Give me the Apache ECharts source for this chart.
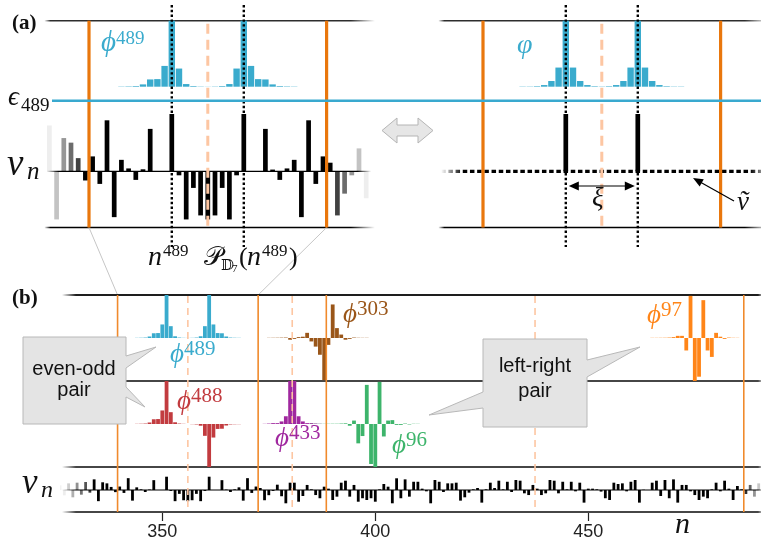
<!DOCTYPE html>
<html>
<head>
<meta charset="utf-8">
<script src="https://cdn.jsdelivr.net/npm/echarts@6/dist/echarts.min.js"></script>
<style>
  html, body { margin: 0; padding: 0; background: #fff; }
  #chart { width: 761px; height: 540px; }
</style>
</head>
<body>
<div id="chart"></div>
<script>
// on-site potential v_n, sites 326 .. 490
const V_N0 = 326;
const V_N = [
  0.35, -0.4, 0.5, -0.55, 0.55, -0.35, 0.6, -0.2, 0.8, -0.84,      // 326-335
  0.58, 0.5, 0.23, -0.16, 0.26, -0.22, 0.89, -0.8, 0.2, 0.05,       // 336-345
  -0.15, 0.035, 0.74, 0, 0, 1.0, -0.07, -0.84, -0.29, -0.77,        // 346-355
  -0.84, -0.77, -0.29, -0.84, -0.07, 1.0, 0, 0, 0.74, 0.03,         // 356-365
  -0.15, 0.05, 0.2, -0.8, 0.89, -0.22, 0.26, 0.15, -0.77, -0.39,    // 366-375
  -0.07, 0.4, -0.47, -1.0, 0.55, 0.55, -0.88, -0.45, 0.38, 0.05,    // 376-385
  -0.38, -0.62, 0.25, 0.1, -0.75, -0.5, 0.55, 0.7, -0.5, 0.38,      // 386-395
  -0.88, -0.62, -0.75, -0.62, -0.88, 0.05, 0.45, 0.25, -1.0, 0.88,  // 396-405
  -0.62, 0.8, -0.5, 0.62, 0.62, 0.1, -0.1, -1.0, 0.75, 0.62,        // 406-415
  -0.15, 0.5, 0.5, 0.55, -0.8, -0.55, -0.2, 0.05, 0.15, -0.95,      // 416-425
  0.05, 0.55, 0.15, 0.7, 0.05, 0.62, -0.15, 0.75, 0.7, -0.25,       // 426-435
  -0.38, 0.38, 0.1, -0.38, -0.25, 0.75, 0.7, -0.25, 0.62, 0.05,     // 436-445
  0.62, -0.1, 0.55, -0.95, 0.1, 0.1, 0.05, -0.12, -0.62, -0.75,     // 446-455
  0.55, 0.45, 0.5, -0.1, 0.62, 0.75, -0.95, 0.02, 0, 0.55,          // 456-465
  0.7, -0.45, 0.75, -0.62, 0.8, -0.95, 0.38, 0.38, -0.1, -0.38,     // 466-475
  -0.75, -0.5, -0.62, 0.05, 0.55, -0.1, 0.7, 0.1, -0.75, 0.3,       // 476-485
  0.05, -0.3, 0.38, -0.5, 0.5                                       // 486-490
];

// eigenvectors (first site, then values)
const PHI489_N0 = 344;
const PHI489 = [0.004, 0.006, 0.01, 0.035, 0.11, 0.115, 0.315, 1.0, 0.275, 0.04, 0.01, 0.004, 0.002,
                0.004, 0.01, 0.04, 0.275, 1.0, 0.315, 0.115, 0.11, 0.035, 0.01, 0.006, 0.004];
const PHI488_N0 = 344;
const PHI488 = [0.004, 0.006, 0.01, 0.035, 0.11, 0.115, 0.315, 1.0, 0.275, 0.04, 0.01, 0.004, 0,
                -0.004, -0.01, -0.04, -0.275, -1.0, -0.315, -0.115, -0.11, -0.035, -0.01, -0.006, -0.004];
const PHI433_N0 = 374;
const PHI433 = [0.004, 0.01, 0.02, 0.02, 0.06, 0.18, 1.0, 1.0, 0.18, 0.06, 0.02, 0.02, 0.01, 0.004];
const PHI303_N0 = 375;
const PHI303 = [0.004, 0.005, 0.006, 0.008, 0.01, -0.04, -0.02, 0.02, 0.03, 0.12, -0.08, -0.2,
                -0.39, -0.98, -0.16, 0.78, 0.23, 0.08, -0.04, -0.02, 0.01, 0.005, 0.004, 0.004];
const PHI96_N0 = 385;
const PHI96 = [0.004, 0.004, 0.004, 0.004, 0.005, 0.006, 0.006, 0.01, 0.015, -0.04, 0.08, -0.45, -0.28,
               0.91, -0.93, -1.0, 0.98, -0.29, 0.08, 0.09, -0.02, -0.02, 0.01, -0.01, 0.005, 0.004];
const PHI97_N0 = 465;
const PHI97 = [0.004, 0.004, 0.005, 0.006, 0.01, 0.02, 0.05, 0.05, -0.29, 0.98, -1.0, -0.9, 0.88,
               -0.29, -0.44, 0.12, 0.03, -0.02, 0.01, 0.005, 0.004];

// simplified model (right of panel a)
const VARPHI_N0 = 345;
const VARPHI = [0.004, 0.004, 0.008, 0.025, 0.086, 0.29, 1.0, 0.29, 0.086, 0.025, 0.008, 0.004,
                0.008, 0.025, 0.086, 0.29, 1.0, 0.29, 0.086, 0.025, 0.008, 0.004, 0.004];
const VT_SITES = [351, 361];
const VT = [1.0, 1.0];

const EPS489 = 1.23;                       // eigenvalue, in units of v
const PEAKS_489 = [351, 361];
const EDGES = [339.5, 372.5, 388.5, 486.5];
const CENTRES = [356, 380.5, 437.5];
const B_TICKS = [350, 400, 450];

// ---- layout ----
const A_X = [333.5, 379];
const B_X = [327, 490.5];
const A_TOP = 20.7, A_BOT = 227.5;
const B_LINES = [295, 381, 467, 512];

const BLUE = '#3aabcd', RED = '#c23b3f', PURPLE = '#a0289f', BROWN = '#9a5619',
      GREEN = '#3db46b', ORANGE = '#ff8518';
const SERIF = '"Liberation Serif", "DejaVu Serif", serif';
const SANS = '"Liberation Sans", Arimo, sans-serif';

function pairs(n0, arr) { return arr.map((v, i) => [n0 + i, v]); }
function yRange(top, bottom, base, ppu) {
  return { min: -(bottom - base) / ppu, max: (base - top) / ppu };
}
function grey(l) {
  const c = Math.round(255 * Math.min(l, 0.95));
  return 'rgb(' + c + ',' + c + ',' + c + ')';
}

// v bars with fading beyond the frame
const vA = pairs(V_N0, V_N).filter(p => p[0] >= 334 && p[0] <= 378).map(p => {
  const n = p[0];
  const d = n < 339 ? 338.9 - n : (n > 373 ? n - 373.1 : 0);
  return { value: p, itemStyle: { color: d > 0 ? grey(0.1 + d * 0.17) : '#000' } };
});
const vB = pairs(V_N0, V_N).map(p => {
  const n = p[0];
  let l = 0;
  if (n < 334) l = 0.1 + (333.9 - n) * 0.12;
  if (n > 486) l = 0.1 + (n - 486.6) * 0.2;
  return { value: p, itemStyle: { color: l > 0 ? grey(l) : '#000' } };
});

const grids = [
  { left: 45.8, top: 5, width: 327.6, height: 242 },
  { left: 439.8, top: 5, width: 327.6, height: 242 },
  { left: 64.32, top: 295, width: 696.5, height: 217 }
].map(g => Object.assign(g, { containLabel: false, outerBoundsMode: 'none' }));

function xAx(gridIndex, range, extra) {
  return Object.assign({ type: 'value', gridIndex, min: range[0], max: range[1], show: false,
                         axisLine: { show: false, onZero: false } }, extra || {});
}
function yAx(gridIndex, r) {
  return { type: 'value', gridIndex, min: r.min, max: r.max, show: false };
}

const xAxes = [
  xAx(0, A_X), xAx(0, A_X),
  xAx(1, A_X), xAx(1, A_X),
  xAx(2, B_X, {
    show: true, position: 'bottom',
    axisLine: { show: false, onZero: false }, splitLine: { show: false },
    axisTick: { show: true, customValues: B_TICKS, length: 9, lineStyle: { color: '#222', width: 1.2 } },
    axisLabel: { show: true, customValues: B_TICKS, margin: 11, fontSize: 18, color: '#222', fontFamily: SANS }
  }),
  xAx(2, B_X), xAx(2, B_X), xAx(2, B_X), xAx(2, B_X), xAx(2, B_X), xAx(2, B_X)
];
const yAxes = [
  yAx(0, yRange(5, 247, 171.3, 57.3)),  // 0 v (a left)
  yAx(0, yRange(5, 247, 86.7, 66)),     // 1 phi (a left)
  yAx(1, yRange(5, 247, 171.3, 57.3)),  // 2 v tilde
  yAx(1, yRange(5, 247, 86.7, 66)),     // 3 varphi
  yAx(2, yRange(295, 512, 338, 43)),    // 4 row 1
  yAx(2, yRange(295, 512, 424, 43)),    // 5 row 2
  yAx(2, yRange(295, 512, 490, 13.3))   // 6 v_n row
];

function bars(xi, yi, width, color, data) {
  const s = { type: 'bar', xAxisIndex: xi, yAxisIndex: yi, barWidth: width, data,
              silent: true, emphasis: { disabled: true } };
  if (color) s.itemStyle = { color };
  return s;
}

const option = {
  animation: false,
  grid: grids,
  xAxis: xAxes,
  yAxis: yAxes,
  series: [
    bars(0, 0, 4.7, null, vA),
    bars(1, 1, 6.4, BLUE, pairs(PHI489_N0, PHI489)),
    bars(2, 2, 4.7, '#000', VT_SITES.map((n, i) => [n, VT[i]])),
    bars(3, 3, 6.4, BLUE, pairs(VARPHI_N0, VARPHI)),
    bars(4, 6, 2.8, null, vB),
    bars(5, 4, 3.8, BLUE, pairs(PHI489_N0, PHI489)),
    bars(6, 4, 3.8, BROWN, pairs(PHI303_N0, PHI303)),
    bars(7, 4, 3.8, ORANGE, pairs(PHI97_N0, PHI97)),
    bars(8, 5, 3.8, RED, pairs(PHI488_N0, PHI488)),
    bars(9, 5, 3.8, PURPLE, pairs(PHI433_N0, PHI433)),
    bars(10, 5, 3.8, GREEN, pairs(PHI96_N0, PHI96))
  ]
};

const chart = echarts.init(document.getElementById('chart'));
chart.setOption(option);

const px = (i, n) => chart.convertToPixel({ xAxisIndex: i }, n);
const py = (i, v) => chart.convertToPixel({ yAxisIndex: i }, v);

const g = [];
function hline(x1, x2, y, rgb, w, fl, fr, z, dash) {
  const len = x2 - x1;
  const stroke = new echarts.graphic.LinearGradient(x1, 0, x2, 0, [
    { offset: 0, color: 'rgba(' + rgb + ',0)' },
    { offset: fl / len, color: 'rgba(' + rgb + ',1)' },
    { offset: 1 - fr / len, color: 'rgba(' + rgb + ',1)' },
    { offset: 1, color: 'rgba(' + rgb + ',0)' }
  ], true);
  const style = { stroke, lineWidth: w };
  if (dash) style.lineDash = dash;
  g.push({ type: 'line', silent: true, z: z || 1, shape: { x1, y1: y, x2, y2: y }, style });
}
function seg(x1, y1, x2, y2, color, w, dash, z) {
  const style = { stroke: color, lineWidth: w };
  if (dash) style.lineDash = dash;
  g.push({ type: 'line', silent: true, z: z || 5, shape: { x1, y1, x2, y2 }, style });
}
function poly(points, fill, stroke, z) {
  g.push({ type: 'polygon', silent: true, z: z || 8, shape: { points },
           style: { fill, stroke: stroke || null, lineWidth: 1 } });
}
function arrowHead(tip, from, len, half) {
  const dx = tip[0] - from[0], dy = tip[1] - from[1];
  const d = Math.hypot(dx, dy), ux = dx / d, uy = dy / d;
  const bx = tip[0] - ux * len, by = tip[1] - uy * len;
  poly([tip, [bx - uy * half, by + ux * half], [bx + uy * half, by - ux * half]], '#000', null, 9);
}
// text placed by its baseline
function T(text, x, base, size, color, font, align) {
  g.push({
    type: 'text', silent: true, z: 10, x, y: base - 0.33 * size,
    style: { text, fill: color || '#111', font: font.replace('S', size + 'px'),
             align: align || 'left', textAlign: align || 'left',
             verticalAlign: 'middle', textVerticalAlign: 'middle' }
  });
}
const IT = 'italic S ' + SERIF, RM = 'S ' + SERIF, BD = 'bold S ' + SERIF, SS = 'S ' + SANS;
function phiLabel(x, base, sup, color) {
  T('\u03D5', x, base, 27, color, IT);
  T(sup, x + 14, base - 8, 21, color, RM);
}

// ---- panel (a) ----
[[0, 0], [2, 2]].forEach(([xi, yi]) => {
  const l = px(xi, 333.3), r = px(xi, 379.2);
  hline(l, r, A_TOP, '45,45,45', 1.6, 6, 24);
  hline(l, r, A_BOT, '0,0,0', 1.6, 6, 24);
  EDGES.slice(0, 2).forEach(e => seg(px(xi, e), A_TOP, px(xi, e), A_BOT, '#e9770d', 3.2));
  seg(px(xi, 356), A_TOP + 3, px(xi, 356), A_BOT, '#fdc6a2', 3, [10, 6]);
  PEAKS_489.forEach(n => seg(px(xi, n), 5, px(xi, n), 247, '#000', 2.4, [2.4, 2.4]));
});
hline(px(0, 333.6), px(0, 378.7), py(0, 0), '0,0,0', 1.2, 12, 14, 3);
// dotted zero potential of the simplified model
hline(px(2, 334) - 2.25, px(2, 379.4), py(2, 0), '0,0,0', 3.2, 22, 20, 3, [4.5, 2.7]);
// eigenvalue level
seg(52, py(0, EPS489), 761, py(0, EPS489), '#39a9cf', 2.6, null, 6);
// zoom connectors
[339.5, 372.5].forEach(e => seg(px(0, e), A_BOT, px(4, e), B_LINES[0], '#c6c6c6', 1, null, 1));
// double arrow between the two models
poly([[382, 130.5], [397, 118], [397, 125], [418, 125], [418, 118], [433, 130.5],
      [418, 143], [418, 136], [397, 136], [397, 143]], '#e6e6e6', '#b4b4b4');
// xi arrow
const xiY = 186, xL = px(2, 351) + 3, xR = px(2, 361) - 3;
seg(xL + 6, xiY, xR - 6, xiY, '#000', 1.2, null, 9);
arrowHead([xL, xiY], [xR, xiY], 10, 4.5);
arrowHead([xR, xiY], [xL, xiY], 10, 4.5);
// v tilde pointer
seg(734, 201, 701, 182.5, '#000', 1.2, null, 9);
arrowHead([693, 178], [734, 201], 10, 4.2);

T('(a)', 12, 31, 21, '#111', BD);
T('\u03D5', 101, 53, 29, BLUE, IT);
T('489', 116, 45, 19, BLUE, RM);
T('\u03F5', 8, 107, 27, '#111', IT);
T('489', 21, 112, 19, '#111', RM);
T('v', 7, 177, 37, '#111', IT);
T('n', 27, 181, 25, '#111', IT);
T('n', 148, 267, 28, '#111', IT);
T('489', 163, 257, 17, '#111', RM);
T('\uD835\uDCAB', 204, 267, 26, '#111', RM);
T('\uD835\uDD3B', 221, 271, 15, '#111', RM);
T('7', 232, 273, 11, '#111', RM);
T('(', 239, 267, 26, '#111', RM);
T('n', 247, 267, 28, '#111', IT);
T('489', 262, 257, 17, '#111', RM);
T(')', 289, 267, 26, '#111', RM);
T('\u03C6', 517, 55, 28, BLUE, IT);
T('\u03BE', 592, 208, 27, '#111', IT);
T('\u1E7D', 737, 212, 27, '#111', IT);

// ---- panel (b) ----
B_LINES.forEach((y, i) => hline(62, 764, y, i === 0 ? '30,30,30' : '70,70,70', 1.8, 14, 6));
hline(62, 764, py(6, 0), '0,0,0', 1.2, 14, 6, 3);
EDGES.forEach(e => seg(px(4, e), B_LINES[0], px(4, e), B_LINES[3], '#f08a2c', 1.6));
CENTRES.forEach(c => seg(px(4, c), B_LINES[0] + 1, px(4, c), B_LINES[3], '#fdc6a2', 1.6, [7, 5]));

// callouts
poly([[23, 337], [126, 337], [126, 356], [156, 347], [126, 368], [126, 387], [145, 407],
      [126, 397], [126, 424], [23, 424]], '#e4e4e4', '#b8b8b8');
poly([[483, 339], [587, 339], [587, 360], [640, 347], [587, 377], [587, 427], [483, 427],
      [483, 408], [429, 415], [483, 392]], '#e4e4e4', '#b8b8b8');
T('even-odd', 74, 376, 20, '#111', SS, 'center');
T('pair', 74, 397, 20, '#111', SS, 'center');
T('left-right', 535, 373, 20, '#111', SS, 'center');
T('pair', 535, 398, 20, '#111', SS, 'center');

T('(b)', 12, 306, 21, '#111', BD);
phiLabel(170, 364, '489', BLUE);
phiLabel(177, 411, '488', RED);
phiLabel(275, 448, '433', PURPLE);
phiLabel(343, 324, '303', BROWN);
phiLabel(392, 455, '96', GREEN);
phiLabel(647, 325, '97', ORANGE);
T('v', 22, 495, 35, '#111', IT);
T('n', 41, 499, 24, '#111', IT);
T('n', 675, 535, 30, '#111', IT);

chart.setOption({ graphic: { elements: g } });
</script>
</body>
</html>
